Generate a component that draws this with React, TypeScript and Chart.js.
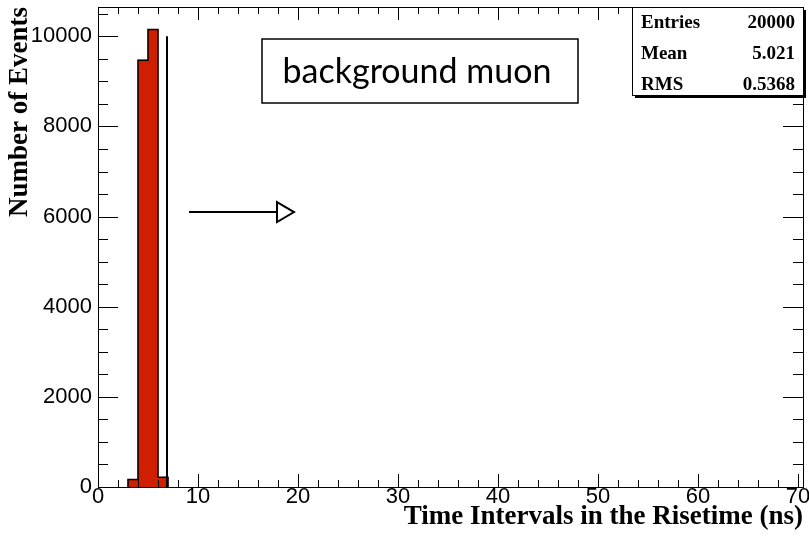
import React, { useEffect, useRef } from 'react';
import { Chart, registerables } from 'chart.js';

Chart.register(...registerables);

// ---- data ----
const binLowEdges = [3, 4, 5, 6];
const binWidth = 1;
const binCounts = [165, 9470, 10150, 215];
const xTicks = [0, 10, 20, 30, 40, 50, 60, 70];
const yTicks = [0, 2000, 4000, 6000, 8000, 10000];
const xRange = [0, 70.5];
const yRange = [0, 10650];
const xMinorStep = 2;
const yMinorStep = 500;
const cutLineX = 6.9;
const cutLineY = [0, 10000];
const arrowX = [9.1, 19.6];
const arrowY = 6100;
const statsLabels = ['Entries', 'Mean', 'RMS'];
const statsValues = ['20000', '5.021', '0.5368'];
const annotationText = 'background muon';
const xTitle = 'Time Intervals in the Risetime (ns)';
const yTitle = 'Number of Events';

const barData = binLowEdges.map((e, i) => ({ x: e + binWidth / 2, y: binCounts[i] }));
const outlineData = [
  { x: binLowEdges[0], y: 0 },
  ...binLowEdges.map((e, i) => ({ x: e + binWidth, y: binCounts[i] })),
  { x: binLowEdges[binLowEdges.length - 1] + binWidth, y: 0 },
];
const cutData = cutLineY.map((y) => ({ x: cutLineX, y }));

const rootPlugin = {
  id: 'rootDecor',
  afterDatasetsDraw(chart: any) {
    const { ctx, chartArea: a, scales } = chart;
    const xs = scales.x;
    const ys = scales.y;
    ctx.save();
    ctx.strokeStyle = '#000';
    ctx.lineWidth = 1;
    ctx.beginPath();
    for (let v = xRange[0]; v <= xRange[1] + 1e-9; v += xMinorStep) {
      const px = Math.round(xs.getPixelForValue(v)) + 0.5;
      const major = Math.abs(v % 10) < 1e-9;
      const len = major ? 13 : 7;
      ctx.moveTo(px, a.bottom);
      ctx.lineTo(px, a.bottom - len);
      ctx.moveTo(px, a.top);
      ctx.lineTo(px, a.top + len);
    }
    for (let v = yRange[0]; v <= yRange[1] + 1e-9; v += yMinorStep) {
      const py = Math.round(ys.getPixelForValue(v)) + 0.5;
      const major = Math.abs(v % 2000) < 1e-9;
      const len = major ? 20 : 10;
      ctx.moveTo(a.left, py);
      ctx.lineTo(a.left + len, py);
      ctx.moveTo(a.right, py);
      ctx.lineTo(a.right - len, py);
    }
    ctx.stroke();
    ctx.strokeRect(Math.round(a.left) + 0.5, Math.round(a.top) + 0.5, Math.round(a.right - a.left), Math.round(a.bottom - a.top));
    ctx.restore();
  },
  afterDraw(chart: any) {
    const { ctx, chartArea: a, scales } = chart;
    const xs = scales.x;
    const ys = scales.y;
    ctx.save();
    // arrow
    const ax0 = xs.getPixelForValue(arrowX[0]);
    const ax1 = xs.getPixelForValue(arrowX[1]);
    const ay = ys.getPixelForValue(arrowY);
    const headL = 17;
    const headH = 10;
    ctx.strokeStyle = '#000';
    ctx.lineWidth = 2;
    ctx.beginPath();
    ctx.moveTo(ax0, ay);
    ctx.lineTo(ax1 - headL, ay);
    ctx.stroke();
    ctx.beginPath();
    ctx.moveTo(ax1 - headL, ay - headH);
    ctx.lineTo(ax1, ay);
    ctx.lineTo(ax1 - headL, ay + headH);
    ctx.closePath();
    ctx.fillStyle = '#fff';
    ctx.fill();
    ctx.stroke();

    // annotation box
    const bx = 262, by = 39, bw = 316, bh = 64;
    ctx.fillStyle = '#fff';
    ctx.fillRect(bx, by, bw, bh);
    ctx.lineWidth = 1.5;
    ctx.strokeRect(bx, by, bw, bh);
    ctx.fillStyle = '#000';
    ctx.font = '34px Lato';
    ctx.textAlign = 'center';
    ctx.textBaseline = 'middle';
    ctx.fillText(annotationText, bx + bw / 2 - 3, by + bh / 2 + 1);

    // stats box
    const sw = 171, sh = 88;
    const sx = Math.round(a.right) - sw;
    const sy = Math.round(a.top);
    ctx.fillStyle = '#000';
    ctx.fillRect(sx + 3, sy + 3, sw, sh);
    ctx.fillStyle = '#fff';
    ctx.fillRect(sx, sy, sw, sh);
    ctx.lineWidth = 1;
    ctx.strokeStyle = '#000';
    ctx.strokeRect(sx + 0.5, sy + 0.5, sw, sh);
    ctx.font = 'bold 19px "Liberation Serif"';
    ctx.fillStyle = '#000';
    ctx.textBaseline = 'middle';
    statsLabels.forEach((lab, i) => {
      const ty = sy + 16 + i * 31;
      ctx.textAlign = 'left';
      ctx.fillText(lab, sx + 9, ty);
      ctx.textAlign = 'right';
      ctx.fillText(statsValues[i], sx + sw - 8, ty);
    });
    ctx.restore();
  },
};

export default function App() {
  const ref = useRef<HTMLCanvasElement | null>(null);
  useEffect(() => {
    if (!ref.current) return;
    const chart = new Chart(ref.current, {
      type: 'bar',
      data: {
        datasets: [
          {
            type: 'bar',
            data: barData,
            backgroundColor: '#d01e00',
            borderWidth: 0,
            barPercentage: 1,
            categoryPercentage: 1,
            order: 3,
          } as any,
          {
            type: 'line',
            data: outlineData,
            stepped: 'after',
            borderColor: '#000',
            borderWidth: 1.5,
            pointRadius: 0,
            fill: false,
            order: 2,
          } as any,
          {
            type: 'line',
            data: cutData,
            borderColor: '#000',
            borderWidth: 2,
            pointRadius: 0,
            fill: false,
            order: 1,
          } as any,
        ],
      },
      options: {
        responsive: false,
        animation: false,
        events: [],
        layout: { padding: { left: 0, top: 7, right: 6, bottom: 6 } },
        plugins: { legend: { display: false }, tooltip: { enabled: false } },
        scales: {
          x: {
            type: 'linear',
            min: xRange[0],
            max: xRange[1],
            offset: false,
            grid: { display: false, drawTicks: false, offset: false },
            border: { display: false },
            afterBuildTicks: (s: any) => {
              s.ticks = xTicks.map((v) => ({ value: v }));
            },
            afterFit: (s: any) => {
              s.height = 50;
              s.paddingLeft = 0;
              s.paddingRight = 0;
            },
            ticks: {
              color: '#000',
              font: { family: 'Liberation Sans', size: 22, lineHeight: 1 },
              padding: -1,
              maxRotation: 0,
              autoSkip: false,
              callback: (v: any) => String(v),
            },
            title: {
              display: true,
              text: xTitle,
              align: 'end',
              color: '#000',
              font: { family: 'Liberation Serif', size: 27, weight: 'bold' },
              padding: 4,
            },
          },
          y: {
            type: 'linear',
            min: yRange[0],
            max: yRange[1],
            grid: { display: false, drawTicks: false },
            border: { display: false },
            afterBuildTicks: (s: any) => {
              s.ticks = yTicks.map((v) => ({ value: v }));
            },
            afterFit: (s: any) => {
              s.width = 98;
              s.paddingTop = 0;
              s.paddingBottom = 0;
            },
            ticks: {
              color: '#000',
              font: { family: 'Liberation Sans', size: 22, lineHeight: 1 },
              padding: 6,
              autoSkip: false,
              callback: (v: any) => String(v),
            },
            title: {
              display: true,
              text: yTitle,
              align: 'end',
              color: '#000',
              font: { family: 'Liberation Serif', size: 27, weight: 'bold' },
              padding: 4,
            },
          },
        },
      },
      plugins: [rootPlugin],
    } as any);
    return () => chart.destroy();
  }, []);
  return (
    <div style={{ position: 'fixed', left: 0, top: 0, width: 809, height: 543, background: '#fff' }}>
      <canvas ref={ref} width={809} height={543} style={{ width: 809, height: 543, display: 'block' }} />
    </div>
  );
}
